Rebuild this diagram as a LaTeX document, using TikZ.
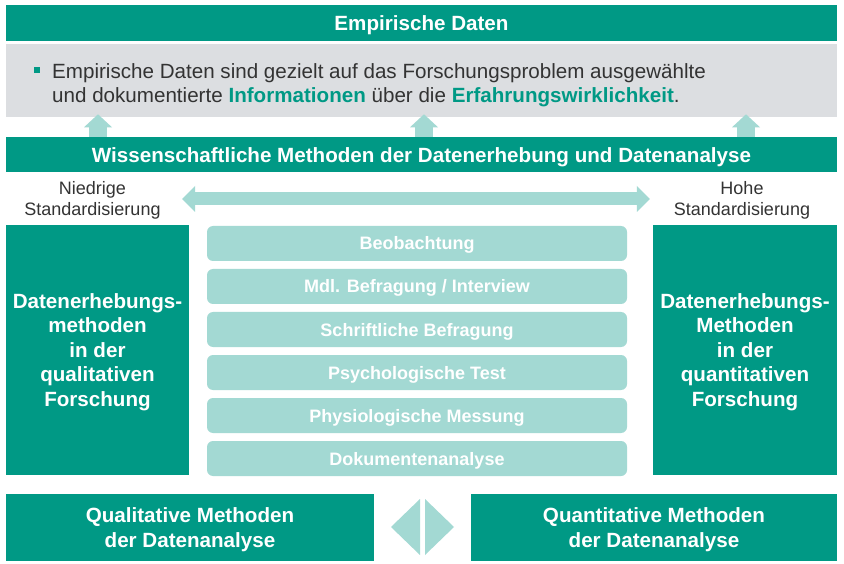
\documentclass[tikz,border=0pt]{standalone}
\usepackage{fontspec}
\setmainfont{Liberation Sans}
\usetikzlibrary{arrows.meta,positioning}
\definecolor{petrol}{RGB}{0,153,133}
\definecolor{mint}{RGB}{163,217,211}
\definecolor{fog}{RGB}{220,222,225}
\definecolor{ink}{RGB}{51,51,51}
\tikzset{
  bar/.style={fill=petrol,text=white,font=\bfseries\fontsize{20.6}{24.5}\selectfont,minimum width=831pt,minimum height=35.7pt,inner sep=0pt,text height=14.75pt,text depth=0pt},
  sidebox/.style={fill=petrol,text=white,font=\bfseries\fontsize{20.6}{24.5}\selectfont,align=center,minimum height=250pt,inner sep=0pt,text depth=-1.5pt},
  bottombox/.style={fill=petrol,text=white,font=\bfseries\fontsize{20.6}{24.5}\selectfont,align=center,minimum height=67pt,inner sep=0pt,text depth=-1.5pt},
  methbox/.style={fill=mint,text=white,rounded corners=6pt,font=\bfseries\fontsize{18}{21}\selectfont,minimum width=420pt,minimum height=35pt,inner sep=0pt,text height=13pt,text depth=0pt},
  sidelabel/.style={text=ink,font=\fontsize{18}{21}\selectfont,align=center,inner sep=0pt},
  uparr/.style={draw=mint,line width=18pt,-{Triangle[length=13pt,width=28pt,line width=0pt]}},
  dblarr/.style={draw=mint,line width=13pt,{Triangle[length=13pt,width=26pt,line width=0pt]}-{Triangle[length=13pt,width=26pt,line width=0pt]}},
}
\begin{document}
\begin{tikzpicture}[x=1pt,y=-1pt]
  \useasboundingbox[fill=white] (0,0) rectangle (844,564);
  % top part
  \node[bar] (emp) at (421.5,22.85) {Empirische Daten};
  \node[fill=fog,minimum width=831pt,minimum height=72.7pt,inner sep=0pt,below=3.3pt of emp] (grey) {};
  \node[fill=petrol,minimum size=6pt,inner sep=0pt] (dot) at (37,70) {};
  \node[anchor=base west,text=ink,font=\fontsize{20.6}{24.5}\selectfont,align=left,inner sep=0pt] (def) at (52,103)
    {Empirische Daten sind gezielt auf das Forschungsproblem ausgewählte\\und dokumentierte \textcolor{petrol}{\textbf{Informationen}} über die \textcolor{petrol}{\textbf{Erfahrungswirklichkeit}}.};
  \node[bar,below=19.3pt of grey] (wiss) {Wissenschaftliche Methoden der Datenerhebung und Datenanalyse};
  \foreach \dx in {-323.5,2.5,324.5}
    \draw[uparr] ([xshift=\dx pt]wiss.north) -- ([xshift=\dx pt,yshift=3pt]grey.south);
  % standardisation scale
  \node[sidelabel] (lo) at (92.5,200) {Niedrige\\Standardisierung};
  \node[sidelabel] (hi) at (742,200) {Hohe\\Standardisierung};
  \draw[dblarr] ([xshift=21.5pt,yshift=1pt]lo.east) -- ([xshift=-24pt,yshift=1pt]hi.west);
  % methods
  \node[sidebox,minimum width=183pt] (qlbox) at (97.5,350) {Datenerhebungs-\\methoden\\in der\\qualitativen\\Forschung};
  \node[sidebox,minimum width=184pt] (qnbox) at (745,350) {Datenerhebungs-\\Methoden\\in der\\quantitativen\\Forschung};
  \foreach \txt [count=\i from 0] in {Beobachtung,{Mdl. Befragung / Interview},Schriftliche Befragung,Psychologische Test,Physiologische Messung,Dokumentenanalyse}
    \node[methbox] (m\i) at (417,243.5+43*\i) {\txt};
  % analysis
  \node[bottombox,minimum width=368pt] (qual) at (190,527.5) {Qualitative Methoden\\der Datenanalyse};
  \node[bottombox,minimum width=366pt] (quant) at (654,527.5) {Quantitative Methoden\\der Datenanalyse};
  \fill[mint] (391,527) -- (420,499) -- (420,555) -- cycle;
  \fill[mint] (425,499) -- (454,527) -- (425,555) -- cycle;
\end{tikzpicture}
\end{document}
